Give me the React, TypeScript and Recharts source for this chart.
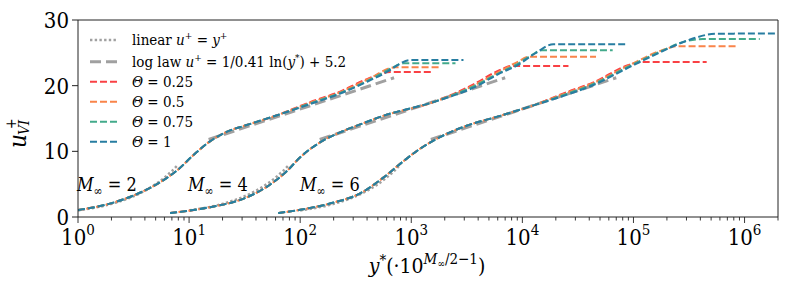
import { LineChart, Line, XAxis, YAxis, ReferenceLine, Legend } from 'recharts'

const FONT = "'DejaVu Serif Condensed', 'DejaVu Serif', serif"
const AXIS = '#222'
const f = (size: number) => ({ fontFamily: FONT, fontStretch: 'condensed', fontSize: size })

// axis ticks
const xMajorTicks = [1, 10, 100, 1000, 10000, 100000, 1000000]
const xMinorSteps = [2, 3, 4, 5, 6, 7, 8, 9]
const yTicks = [0, 10, 20, 30]

// Mach groups and their x shift 10^(M/2-1)
const machLabels = ['2', '4', '6']
const machLabelX = [77, 188, 300]
const lawShift = [1, 10, 100]

// reference laws, in y* units
const linearYStar = [1, 2, 3, 4, 5, 6, 7, 8]
const linearU = [1, 2, 3, 4, 5, 6, 7, 8]
const logLawYStar = [15, 700]
const logLawU = [11.8, 21.2]

// Theta series
const thetaLabels = ['0.25', '0.5', '0.75', '1']
const thetaColors = ['#f94144', '#f9844a', '#43aa8b', '#277da1']

// M = 2 (shared wall region, then one tail per Theta)
const m2InnerX = [1, 1.9, 3.4, 5.5, 7.8, 10.9, 14.5, 22, 33, 62]
const m2InnerU = [1.07, 2.0, 3.5, 5.3, 7.1, 9.4, 11.2, 13.0, 14.0, 15.5]
const m2OuterX = [
  [123, 229, 400, 650, 1550],
  [123, 229, 400, 720, 1830],
  [123, 229, 400, 620, 850, 2500],
  [123, 229, 400, 620, 800, 980, 2950],
]
const m2OuterU = [
  [17.5, 19.1, 21.0, 22.1, 22.1],
  [17.4, 19.0, 20.9, 22.8, 22.8],
  [17.3, 18.9, 20.7, 22.4, 23.4, 23.4],
  [17.2, 18.8, 20.6, 22.2, 23.4, 23.9, 23.9],
]

// M = 4
const m4InnerX = [6.75, 15.5, 31, 50, 76, 100, 152, 245, 347, 560, 1580]
const m4InnerU = [0.6, 1.5, 2.8, 4.6, 7.0, 9.1, 11.4, 13.1, 14.1, 15.4, 17.5]
const m4OuterX = [
  [3630, 6300, 8000, 26000],
  [3630, 6300, 9000, 11500, 46000],
  [3630, 6300, 9000, 12000, 15000, 65000],
  [3630, 6300, 9000, 13000, 19000, 87000],
]
const m4OuterU = [
  [20.2, 22.4, 23.0, 23.0],
  [20.0, 22.2, 23.6, 24.4, 24.4],
  [19.9, 22.0, 23.3, 24.6, 25.4, 25.4],
  [19.7, 21.9, 23.1, 24.9, 26.3, 26.3],
]

// M = 6
const m6InnerX = [63.5, 100, 200, 347, 560, 850, 1200, 1830, 3150, 6300, 12600]
const m6InnerU = [0.6, 1.1, 2.2, 3.6, 6.0, 8.5, 10.4, 12.2, 13.9, 15.4, 17.0]
const m6OuterX = [
  [25000, 43600, 89000, 115000, 456000],
  [25000, 43600, 89000, 175000, 250000, 870000],
  [25000, 43600, 89000, 175000, 300000, 420000, 1370000],
  [25000, 43600, 89000, 175000, 308000, 550000, 1900000],
]
const m6OuterU = [
  [19.0, 20.5, 23.1, 23.6, 23.6],
  [18.9, 20.4, 23.0, 25.3, 26.0, 26.0],
  [18.75, 20.25, 22.85, 25.2, 26.8, 27.1, 27.1],
  [18.6, 20.1, 22.7, 25.1, 26.9, 27.9, 27.95],
]

const pts = (xs: number[], us: number[]) => xs.map((x, i) => ({ x, u: us[i] }))

const groups = [
  { innerX: m2InnerX, innerU: m2InnerU, outerX: m2OuterX, outerU: m2OuterU },
  { innerX: m4InnerX, innerU: m4InnerU, outerX: m4OuterX, outerU: m4OuterU },
  { innerX: m6InnerX, innerU: m6InnerU, outerX: m6OuterX, outerU: m6OuterU },
]

const xTicks = xMajorTicks.flatMap((t) => [t, ...xMinorSteps.map((m) => m * t)]).filter((t) => t <= 2e6)

const dashOffsets = [0.8, 1.6, 0, 0]

function XTick(props: any) {
  const { x, y, payload } = props
  const v = payload.value as number
  const exp = Math.round(Math.log10(v))
  const major = xMajorTicks.includes(v)
  return (
    <g>
      <line x1={x} x2={x} y1={y} y2={y + (major ? 6 : 3.5)} stroke={AXIS} strokeWidth={0.9} />
      {major && (
        <text x={x} y={y + 28} textAnchor="middle" fill="#000" style={f(22)}>
          10
          <tspan dy={-10} style={f(15)}>
            {exp}
          </tspan>
        </text>
      )}
    </g>
  )
}

function YTick(props: any) {
  const { x, y, payload } = props
  return (
    <text x={x} y={y} dy="0.36em" textAnchor="end" fill="#000" style={f(22)}>
      {payload.value}
    </text>
  )
}

function LegendBox() {
  const rows = [12, 33.7, 53.7, 73.7, 93.7, 113.7]
  const sup = f(10)
  return (
    <svg width={300} height={125} style={{ display: 'block' }}>
      <line x1={10} x2={38} y1={rows[0]} y2={rows[0]} stroke="#a0a0a0" strokeWidth={2.5} strokeDasharray="2.4 2.3" />
      <text x={52} y={rows[0] + 5} style={f(15)}>
        linear <tspan fontStyle="italic">u</tspan>
        <tspan dy={-6} style={sup}>+</tspan>
        <tspan dy={6}> = </tspan>
        <tspan fontStyle="italic">y</tspan>
        <tspan dy={-6} style={sup}>+</tspan>
      </text>
      <line x1={10} x2={38} y1={rows[1]} y2={rows[1]} stroke="#a0a0a0" strokeWidth={3} strokeDasharray="11 5" />
      <text x={52} y={rows[1] + 5} style={f(15)}>
        log law <tspan fontStyle="italic">u</tspan>
        <tspan dy={-6} style={sup}>+</tspan>
        <tspan dy={6}> = 1/0.41 ln(</tspan>
        <tspan fontStyle="italic">y</tspan>
        <tspan dy={-6} style={sup}>*</tspan>
        <tspan dy={6}>) + 5.2</tspan>
      </text>
      {thetaLabels.map((t, i) => (
        <g key={t}>
          <line x1={10} x2={38} y1={rows[i + 2]} y2={rows[i + 2]} stroke={thetaColors[i]} strokeWidth={2} strokeDasharray="7 3" />
          <text x={52} y={rows[i + 2] + 5} style={f(15)}>
            <tspan fontStyle="italic">Θ</tspan> = {t}
          </text>
        </g>
      ))}
    </svg>
  )
}

export default function App() {
  return (
    <div style={{ position: 'absolute', left: 0, top: 0, width: 789, height: 295, background: '#fff' }}>
      <LineChart width={789} height={295} margin={{ top: 20, right: 11, left: 8, bottom: 48 }}>
        <XAxis
          dataKey="x"
          type="number"
          scale="log"
          domain={[1, 2e6]}
          allowDataOverflow
          ticks={xTicks}
          interval={0}
          tickLine={false}
          tickSize={0}
          tickMargin={0}
          tick={<XTick />}
          axisLine={{ stroke: AXIS }}
          height={30}
        />
        <YAxis
          type="number"
          domain={[0, 30]}
          ticks={yTicks}
          interval={0}
          tickSize={6}
          tickMargin={3}
          tick={<YTick />}
          tickLine={{ stroke: AXIS }}
          axisLine={{ stroke: AXIS }}
          width={70}
          allowDataOverflow
        />
        <ReferenceLine y={30} stroke={AXIS} />
        <ReferenceLine x={2e6} stroke={AXIS} />
        <Legend
          content={() => <LegendBox />}
          layout="horizontal"
          verticalAlign="middle"
          align="center"
          wrapperStyle={{ left: 80, top: 28, width: 300, height: 125 }}
        />
        {lawShift.map((s, g) => (
          <Line
            key={'lin' + g}
            data={pts(linearYStar.map((y) => y * s), linearU)}
            dataKey="u"
            type="monotone"
            stroke="#a0a0a0"
            strokeWidth={2.5}
            strokeDasharray="2.4 2.3"
            dot={false}
            isAnimationActive={false}
          />
        ))}
        {lawShift.map((s, g) => (
          <Line
            key={'log' + g}
            data={pts(logLawYStar.map((y) => y * s), logLawU)}
            dataKey="u"
            type="linear"
            stroke="#a0a0a0"
            strokeWidth={3}
            strokeDasharray="11 5"
            dot={false}
            isAnimationActive={false}
          />
        ))}
        {groups.flatMap((gr, g) =>
          thetaLabels.map((t, i) => (
            <Line
              key={'m' + g + 't' + i}
              data={pts(gr.innerX.concat(gr.outerX[i]), gr.innerU.concat(gr.outerU[i]))}
              dataKey="u"
              type="monotone"
              stroke={thetaColors[i]}
              strokeWidth={2}
              strokeDasharray="7 3"
              strokeDashoffset={dashOffsets[i]}
              dot={false}
              isAnimationActive={false}
            />
          ))
        )}
      </LineChart>
      <svg width={789} height={295} style={{ position: 'absolute', left: 0, top: 0, pointerEvents: 'none' }}>
        <g transform="translate(26, 148) rotate(-90)">
          <text x={0} y={0} style={f(24)} fontStyle="italic">u</text>
          <text x={19} y={-10} style={f(14)}>+</text>
          <text x={13} y={3} style={f(15)} fontStyle="italic">VI</text>
        </g>
        <text x={427} y={273} textAnchor="middle" style={f(21)}>
          <tspan fontStyle="italic">y</tspan>
          <tspan dy={-8} style={f(15)}>*</tspan>
          <tspan dy={8}>(·10</tspan>
          <tspan dy={-9} style={f(15)} fontStyle="italic">M</tspan>
          <tspan dy={3} style={f(10)}>∞</tspan>
          <tspan dy={-3} style={f(15)}>/2−1</tspan>
          <tspan dy={9}>)</tspan>
        </text>
        {machLabels.map((m, i) => (
          <text key={m} x={machLabelX[i]} y={191} style={f(18)}>
            <tspan fontStyle="italic">M</tspan>
            <tspan dy={4} style={f(12)}>∞</tspan>
            <tspan dy={-4}> = {m}</tspan>
          </text>
        ))}
      </svg>
    </div>
  )
}
